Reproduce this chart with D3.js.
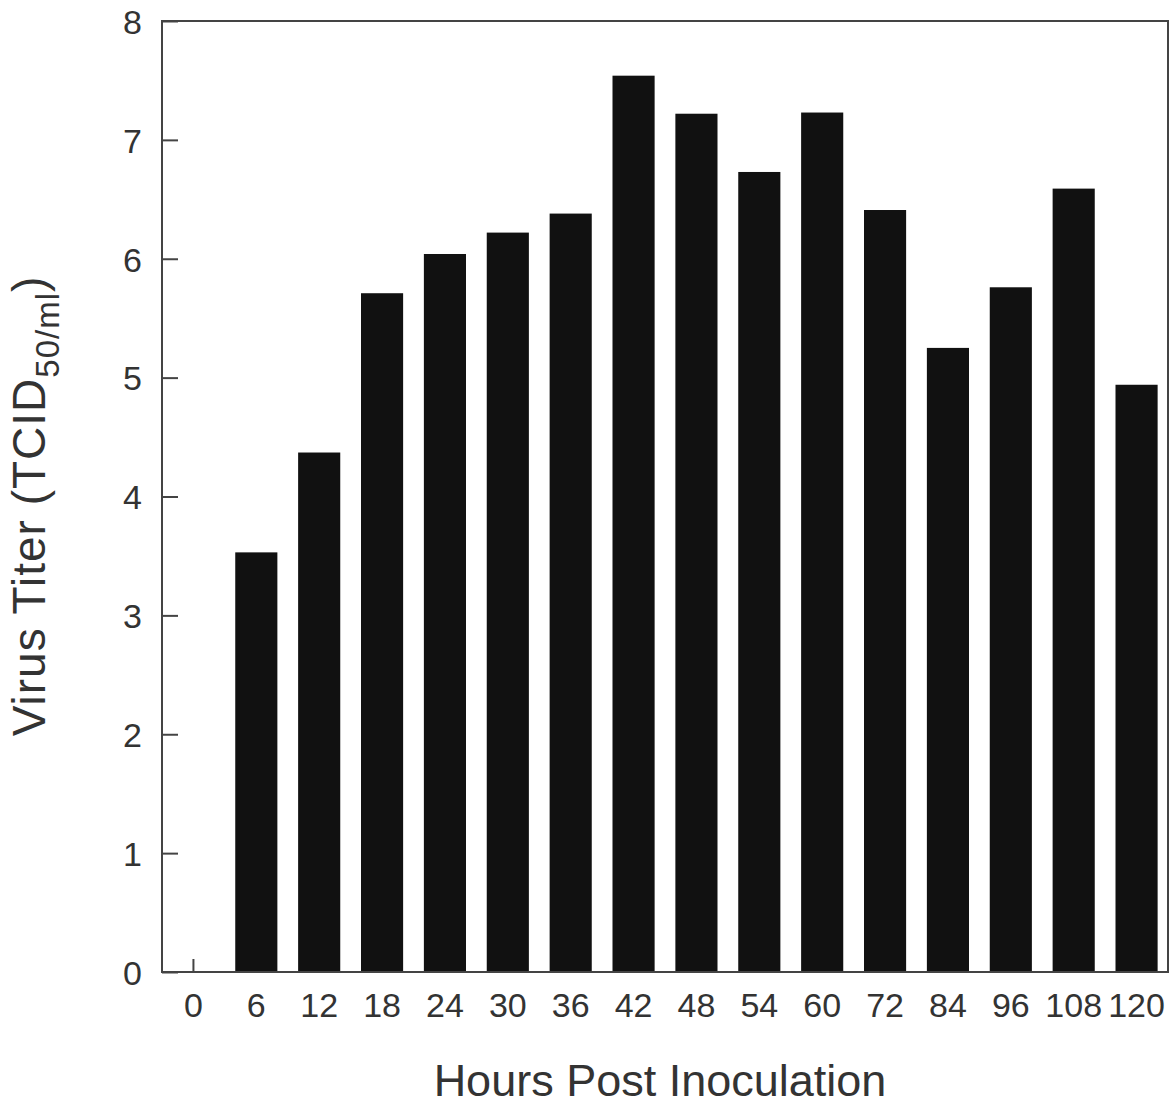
<!DOCTYPE html>
<html lang="en">
<head>
  <meta charset="UTF-8">
  <title>Virus Titer</title>
  <script src="https://d3js.org/d3.v7.min.js"></script>
  <style>
    body { margin: 0; background: #fff; }
    text { font-family: "Liberation Sans", Arial, sans-serif; fill: #333; }
    .bar { fill: #111; }
  </style>
</head>
<body>
<svg width="1176" height="1108"></svg>
<script>
  // data
  const hours = ["0", "6", "12", "18", "24", "30", "36", "42", "48", "54", "60", "72", "84", "96", "108", "120"];
  const titer = [0, 3.53, 4.37, 5.71, 6.04, 6.22, 6.38, 7.54, 7.22, 6.73, 7.23, 6.41, 5.25, 5.76, 6.59, 4.94];
  const yTicks = [0, 1, 2, 3, 4, 5, 6, 7, 8];

  const margin = {top: 21, right: 8, bottom: 136, left: 162};
  const width = 1176 - margin.left - margin.right;
  const height = 1108 - margin.top - margin.bottom;

  const svg = d3.select("svg");
  const g = svg.append("g").attr("transform", `translate(${margin.left},${margin.top})`);

  const x = d3.scaleBand().domain(hours).range([0, width]).paddingInner(0.33).paddingOuter(0.165);
  const y = d3.scaleLinear().domain([0, 8]).range([height, 0]);

  // y axis, ticks inward
  const yAxis = g.append("g")
    .call(d3.axisLeft(y).tickValues(yTicks).tickSize(-16).tickPadding(20).tickFormat(d3.format("d")));
  yAxis.select(".domain").remove();
  yAxis.selectAll(".tick line").attr("stroke", "#444").attr("stroke-width", 2);
  yAxis.selectAll(".tick text").attr("font-size", 34).attr("fill", "#3a3a3a").attr("dy", "0.36em");

  // x axis, ticks inward (hidden behind the bars)
  const xAxis = g.append("g")
    .attr("transform", `translate(0,${height})`)
    .call(d3.axisBottom(x).tickSize(-13).tickPadding(21));
  xAxis.select(".domain").remove();
  xAxis.selectAll(".tick line").attr("stroke", "#444").attr("stroke-width", 2);
  xAxis.selectAll(".tick text").attr("font-size", 34).attr("fill", "#3a3a3a");

  // bars
  g.selectAll(".bar")
    .data(titer)
    .enter().append("rect")
    .attr("class", "bar")
    .attr("x", (d, i) => x(hours[i]))
    .attr("y", d => y(d))
    .attr("width", x.bandwidth())
    .attr("height", d => height - y(d));

  // frame
  g.append("rect")
    .attr("width", width).attr("height", height)
    .attr("fill", "none").attr("stroke", "#444").attr("stroke-width", 2);

  // axis titles
  svg.append("text")
    .attr("x", 660)
    .attr("y", 1096)
    .attr("text-anchor", "middle")
    .attr("font-size", 45)
    .attr("fill", "#3a3a3a")
    .text("Hours Post Inoculation");

  const yTitle = svg.append("text")
    .attr("transform", `translate(45,506) rotate(-90)`)
    .attr("text-anchor", "middle")
    .attr("font-size", 46)
    .attr("letter-spacing", 1)
    .attr("fill", "#3a3a3a");
  yTitle.append("tspan").text("Virus Titer (TCID");
  yTitle.append("tspan").attr("font-size", 33).attr("dy", 14).text("50/ml");
  yTitle.append("tspan").attr("dy", -14).text(")");
</script>
</body>
</html>
